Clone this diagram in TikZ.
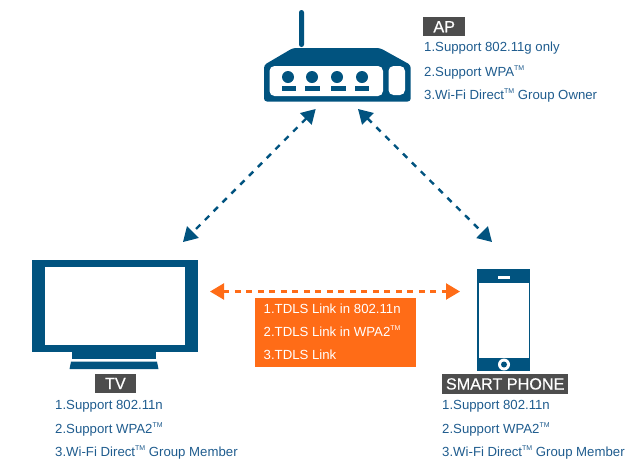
\documentclass[tikz,border=0pt]{standalone}
\usepackage{fontspec}
\setmainfont{Liberation Sans}
\newfontfamily\tagfont[FakeBold=0.5]{Liberation Sans}
\usetikzlibrary{arrows.meta}
\definecolor{deviceblue}{HTML}{01537F}
\definecolor{linkblue}{HTML}{1F5C8E}
\definecolor{accentorange}{HTML}{FF6C17}
\definecolor{tagdark}{HTML}{4D4D4D}
\newcommand{\tmark}{\raisebox{0.45em}{\fontsize{7}{8}\selectfont TM}}
\tikzset{
  x=1pt,y=-1pt,
  device/.style={fill=deviceblue,draw=none},
  hole/.style={fill=white,draw=none},
  tag/.style={fill=tagdark,text=white,inner sep=0pt,anchor=north west,font=\tagfont\fontsize{16.2}{18}\selectfont,align=center},
  note/.style={anchor=west,inner sep=0pt,text=linkblue,font=\fontsize{13.2}{15}\selectfont},
  linknote/.style={anchor=west,inner sep=0pt,text=white,font=\fontsize{13.2}{15}\selectfont},
  bluelink/.style={color=deviceblue,line width=2.4pt,dash pattern=on 6pt off 6.5pt,{Triangle[length=14pt,width=16pt]}-{Triangle[length=14pt,width=16pt]}},
  orangelink/.style={color=accentorange,line width=2.4pt,dash pattern=on 6pt off 5.5pt,{Triangle[length=14pt,width=16pt]}-{Triangle[length=14pt,width=16pt]}},
}
\begin{document}
\begin{tikzpicture}
\useasboundingbox (0,0) rectangle (640,475);
% router
\fill[device,rounded corners=2.4pt] (299,47) -- (299,10) -- (304,10) -- (304,47) -- cycle;
\fill[device,rounded corners=3pt] (293,48) -- (380,48) -- (410.7,65) -- (410.7,101.5) -- (264,101.5) -- (264,65) -- cycle;
\fill[hole,rounded corners=5pt] (269.5,66) rectangle (383,96);
\fill[hole,rounded corners=5pt] (388.5,66) rectangle (405,95);
\foreach \cx/\bl/\br in {288/281.5/296, 312/305/320, 337/330.5/345.5, 362/355/369}{
  \fill[device] (\cx,77) circle[radius=6];
  \fill[device] (\bl,86) rectangle (\br,90.5);
}
% TV
\fill[device] (32,260) rectangle (198,352);
\fill[hole] (44.5,267) rectangle (185,345);
\fill[device] (71.5,352) rectangle (156,359);
\fill[device] (71,361.5) -- (157,361.5) -- (158.5,369) -- (69.5,369) -- cycle;
% phone
\fill[device] (476.7,269) rectangle (530,371);
\fill[hole] (478.5,282.5) rectangle (529,357.5);
\fill[hole] (497.5,276) rectangle (510,278.5);
\fill[hole] (504,364.5) circle[radius=6];
\fill[device] (504,364.5) circle[radius=3];
% anchors
\coordinate (routerL) at (315.7,109);
\coordinate (routerR) at (358,109);
\coordinate (tvT) at (183,242);
\coordinate (phoneT) at (492,242);
\coordinate (tvR) at (210,291.5);
\coordinate (phoneL) at (460,291.5);
\draw[bluelink] (routerL) -- (tvT);
\draw[bluelink] (routerR) -- (phoneT);
\draw[orangelink] (tvR) -- (phoneL);
% tags
\node[tag,minimum width=42pt,minimum height=19pt] (aptag) at (423,17) {AP};
\node[tag,minimum width=41pt,minimum height=19.5pt] (tvtag) at (94.7,373.5) {TV};
\node[tag,minimum width=126pt,minimum height=19.5pt] (phonetag) at (442,374) {SMART PHONE};
% notes
\node[note] (ap1) at (424,48.5) {1.Support 802.11g only};
\node[note] (ap2) at (424,72) {2.Support WPA\tmark};
\node[note] (ap3) at (424,95) {3.Wi-Fi Direct\tmark{} Group Owner};
\node[note] (tv1) at (55,406) {1.Support 802.11n};
\node[note] (tv2) at (55,429) {2.Support WPA2\tmark};
\node[note] (tv3) at (55,452) {3.Wi-Fi Direct\tmark{} Group Member};
\node[note] (ph1) at (442,406) {1.Support 802.11n};
\node[note] (ph2) at (442,429) {2.Support WPA2\tmark};
\node[note] (ph3) at (442,452) {3.Wi-Fi Direct\tmark{} Group Member};
% link box
\fill[accentorange] (254.7,298) rectangle (416,366.7);
\node[linknote] (l1) at (263.5,308.5) {1.TDLS Link in 802.11n};
\node[linknote] (l2) at (263.5,331.5) {2.TDLS Link in WPA2\tmark};
\node[linknote] (l3) at (263.5,354.5) {3.TDLS Link};
\end{tikzpicture}
\end{document}
